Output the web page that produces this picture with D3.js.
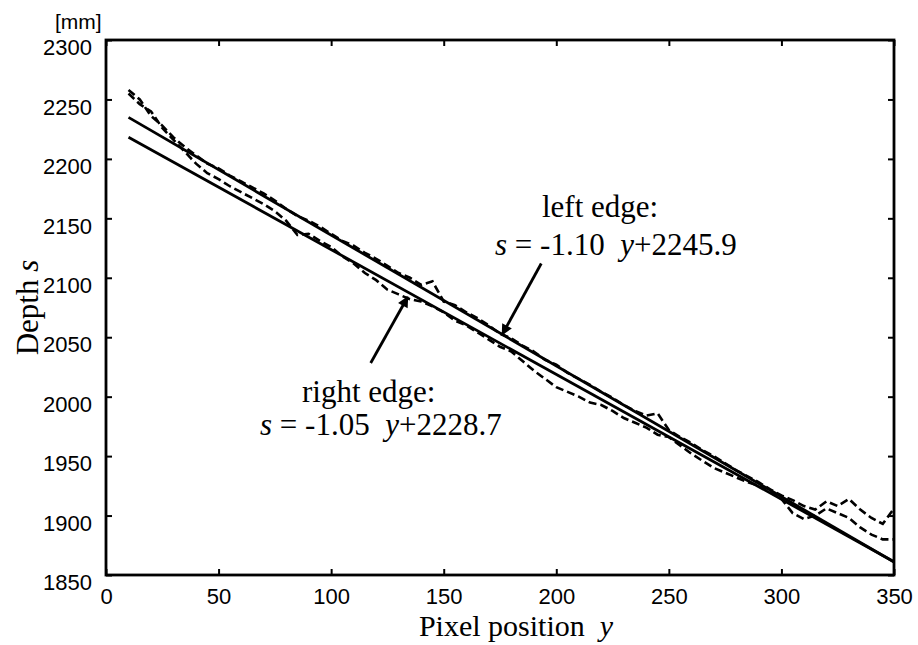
<!DOCTYPE html>
<html>
<head>
<meta charset="utf-8">
<script src="https://cdn.jsdelivr.net/npm/d3@7"></script>
<style>
    body { margin: 0; background: #fff; }
    .axis text { font-family: "Liberation Sans", Arial, sans-serif; font-size: 22px; fill: #000; }
    .axis line { stroke: #000; stroke-width: 2; }
    .serif { font-family: "Liberation Serif", "Times New Roman", serif; font-size: 31px; fill: #000; white-space: pre; }
</style>
</head>
<body>
<script>
// pixel position y (x axis)
var positions = [10,15,20,25,30,35,40,45,50,55,60,65,70,75,80,85,90,95,100,105,
    110,115,120,125,130,135,140,145,150,155,160,165,170,175,180,185,190,195,200,205,
    210,215,220,225,230,235,240,245,250,255,260,265,270,275,280,285,290,295,300,305,
    310,315,320,325,330,335,340,345,350];

// measured depth of the left edge [mm]
var leftEdge = [2258,2250,2236,2228,2218,2210,2203,2196,2192,2186,
    2181,2176,2171,2165,2158,2152,2148,2143,2137,2131,
    2127,2121,2116,2110,2104,2100,2094,2097,2080,2077,
    2071,2066,2060,2053,2049,2043,2038,2031,2027,2020,
    2015,2010,2004,1999,1993,1988,1984,1986,1972,1966,
    1961,1955,1950,1944,1938,1933,1928,1922,1917,1913,
    1908,1905,1912,1908,1914,1905,1898,1893,1906];

// measured depth of the right edge [mm]
var rightEdge = [2255,2246,2240,2226,2216,2206,2196,2188,2183,2177,
    2172,2167,2162,2156,2148,2136,2137,2131,2126,2118,
    2112,2104,2098,2090,2086,2082,2080,2076,2071,2064,
    2060,2054,2048,2042,2038,2030,2022,2015,2008,2004,
    2000,1995,1993,1988,1982,1978,1974,1968,1966,1959,
    1952,1946,1940,1936,1932,1928,1925,1920,1914,1902,
    1897,1900,1906,1902,1898,1890,1884,1880,1880];

// fitted lines s = a*y + b
var fitNames = ["left edge:", "right edge:"];
var fitSlopes = [-1.10, -1.05];
var fitIntercepts = [2245.9, 2228.7];
var fitRange = [10, 350];

// tick labels
var xTicks = [0, 50, 100, 150, 200, 250, 300, 350];
var yTicks = [1850, 1900, 1950, 2000, 2050, 2100, 2150, 2200, 2250, 2300];

window.onload = function(){

    var w = 918, h = 645;
    var left = 106, right = 894, top = 40, bottom = 575;

    var svg = d3.select("body")
        .append("svg")
        .attr("width", w)
        .attr("height", h);

    // arrow head
    svg.append("defs").append("marker")
        .attr("id", "arrow")
        .attr("viewBox", "0 0 10 10")
        .attr("refX", 9)
        .attr("refY", 5)
        .attr("markerUnits", "userSpaceOnUse")
        .attr("markerWidth", 14)
        .attr("markerHeight", 11)
        .attr("orient", "auto")
        .append("path")
        .attr("d", "M0,0 L10,5 L0,10 Z")
        .style("fill", "#000");

    var x = d3.scaleLinear().domain([0, 350]).range([left, right]);
    var y = d3.scaleLinear().domain([1850, 2300]).range([bottom, top]);
    var fmt = d3.format("d");

    // axes, ticks inside the box
    var gx = svg.append("g")
        .attr("class", "axis")
        .attr("transform", "translate(0," + bottom + ")")
        .call(d3.axisBottom(x).tickValues(xTicks).tickFormat(fmt)
            .tickSizeInner(-6).tickSizeOuter(0).tickPadding(13));
    gx.selectAll("text").attr("dy", "0.71em");

    var gy = svg.append("g")
        .attr("class", "axis")
        .attr("transform", "translate(" + left + ",0)")
        .call(d3.axisLeft(y).tickValues(yTicks).tickFormat(fmt)
            .tickSizeInner(-6).tickSizeOuter(0).tickPadding(14));
    gy.selectAll("text").attr("dy", "0.67em");

    svg.append("g")
        .attr("class", "axis")
        .attr("transform", "translate(0," + top + ")")
        .call(d3.axisTop(x).tickValues(xTicks).tickSizeInner(-6).tickSizeOuter(0).tickFormat(""));

    svg.append("g")
        .attr("class", "axis")
        .attr("transform", "translate(" + right + ",0)")
        .call(d3.axisRight(y).tickValues(yTicks).tickSizeInner(-6).tickSizeOuter(0).tickFormat(""));

    svg.selectAll(".axis .domain").remove();

    // frame
    svg.append("rect")
        .attr("x", left)
        .attr("y", top)
        .attr("width", right - left)
        .attr("height", bottom - top)
        .style("fill", "none")
        .style("stroke", "#000")
        .style("stroke-width", 2.8);

    // measured edges (dashed)
    var line = d3.line()
        .x(function(d){ return x(d[0]); })
        .y(function(d){ return y(d[1]); });

    [leftEdge, rightEdge].forEach(function(series){
        svg.append("path")
            .datum(positions.map(function(p, i){ return [p, series[i]]; }))
            .attr("d", line)
            .style("fill", "none")
            .style("stroke", "#000")
            .style("stroke-width", 2.6)
            .style("stroke-dasharray", "8,4");
    });

    // fitted lines
    fitSlopes.forEach(function(a, i){
        svg.append("path")
            .datum(fitRange.map(function(p){ return [p, a * p + fitIntercepts[i]]; }))
            .attr("d", line)
            .style("fill", "none")
            .style("stroke", "#000")
            .style("stroke-width", 2.8);
    });

    // annotations: arrow tip on the fit line at position v, text placed by pixels
    var notes = [
        {fit: 0, v: 176, tail: [39, -71], tipDy: 0, title: [542, 217], eq: [495, 255]},
        {fit: 1, v: 134, tail: [-37, 66], tipDy: 5, title: [302, 402], eq: [260, 435]}
    ];

    notes.forEach(function(n){
        var tx = x(n.v),
            ty = y(fitSlopes[n.fit] * n.v + fitIntercepts[n.fit]) + n.tipDy;
        svg.append("line")
            .attr("x1", tx + n.tail[0])
            .attr("y1", ty + n.tail[1])
            .attr("x2", tx)
            .attr("y2", ty)
            .style("stroke", "#000")
            .style("stroke-width", 2.8)
            .attr("marker-end", "url(#arrow)");

        svg.append("text")
            .attr("class", "serif")
            .attr("x", n.title[0])
            .attr("y", n.title[1])
            .text(fitNames[n.fit]);

        // equation, hyphen as minus like the original
        var eq = svg.append("text")
            .attr("class", "serif")
            .attr("x", n.eq[0])
            .attr("y", n.eq[1]);
        eq.append("tspan").style("font-style", "italic").text("s");
        eq.append("tspan").text(" = " + fitSlopes[n.fit].toFixed(2) + "  ");
        eq.append("tspan").style("font-style", "italic").text("y");
        eq.append("tspan").text("+" + fitIntercepts[n.fit].toFixed(1));
    });

    // axis titles
    var xt = svg.append("text")
        .attr("class", "serif")
        .attr("text-anchor", "middle")
        .style("font-size", "30px")
        .attr("x", 516)
        .attr("y", 636);
    xt.append("tspan").text("Pixel position  ");
    xt.append("tspan").style("font-style", "italic").text("y");

    var yt = svg.append("text")
        .attr("class", "serif")
        .attr("text-anchor", "middle")
        .attr("transform", "translate(38," + (top + bottom) / 2 + ") rotate(-90)");
    yt.append("tspan").text("Depth ");
    yt.append("tspan").style("font-style", "italic").text("s");

    // unit
    svg.append("text")
        .attr("x", 55)
        .attr("y", 29)
        .style("font-family", "Liberation Sans, Arial, sans-serif")
        .style("font-size", "21px")
        .text("[mm]");
};
</script>
</body>
</html>
